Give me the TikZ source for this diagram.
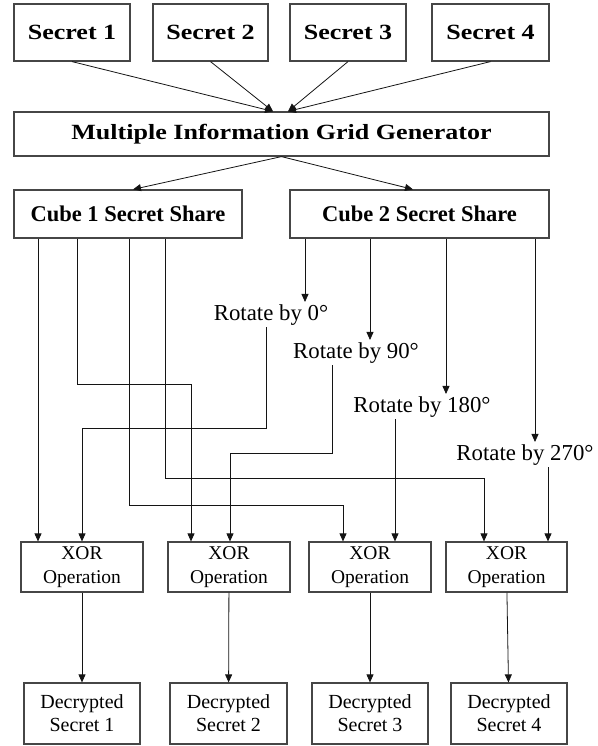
\documentclass[tikz,border=0pt]{standalone}
\usepackage{fontspec}
\setmainfont{Liberation Serif}
\newfontfamily\headfont{Liberation Serif}[FakeStretch=1.2]
\usetikzlibrary{arrows.meta,calc}
\definecolor{boxline}{RGB}{70,70,70}
\definecolor{wireline}{RGB}{20,20,20}

\begin{document}
\begin{tikzpicture}[x=1pt,y=-1pt,
  box/.style={draw=boxline,line width=1.2pt,inner sep=0pt,align=center},
  head/.style={box,font=\headfont\bfseries\fontsize{21.7}{26}\selectfont},
  cube/.style={box,font=\bfseries\fontsize{22.5}{27}\selectfont,
    minimum height=48pt},
  xorbox/.style={box,font=\fontsize{19.5}{23.5}\selectfont,
    minimum width=122pt,minimum height=50pt},
  outbox/.style={box,font=\fontsize{20}{23}\selectfont,
    minimum width=116pt,minimum height=61pt},
  rot/.style={inner sep=2pt,anchor=base,font=\fontsize{22.8}{27}\selectfont},
  wire/.style={draw=wireline,line width=0.8pt},
  arr/.style={wire,-{Triangle[length=8pt,width=7pt]}}]
  \useasboundingbox (0,0) rectangle (597,746);
  % inputs
  \node[head,minimum width=116pt,minimum height=57pt] (s1) at (72,32.5) {Secret 1};
  \node[head,minimum width=115pt,minimum height=57pt] (s2) at (210.5,32.5) {Secret 2};
  \node[head,minimum width=116pt,minimum height=57pt] (s3) at (348,32.5) {Secret 3};
  \node[head,minimum width=117pt,minimum height=57pt] (s4) at (490.5,32.5) {Secret 4};
  \node[head,minimum width=535pt,minimum height=44pt] (grid) at (281.5,134)
    {Multiple Information Grid Generator};
  \node[cube,minimum width=228pt] (c1) at (128,214) {Cube 1 Secret Share};
  \node[cube,minimum width=259pt] (c2) at (419.5,214) {Cube 2 Secret Share};
  % rotations
  \node[rot] (r0) at (271,320) {Rotate by 0°};
  \node[rot] (r90) at (356,358) {Rotate by 90°};
  \node[rot] (r180) at (422,412) {Rotate by 180°};
  \node[rot] (r270) at (525,460) {Rotate by 270°};
  % xor and outputs
  \node[xorbox] (x1) at (82,567) {XOR\\Operation};
  \node[xorbox] (x2) at (229,567) {XOR\\Operation};
  \node[xorbox] (x3) at (370,567) {XOR\\Operation};
  \node[xorbox,minimum width=121pt] (x4) at (506.5,567) {XOR\\Operation};
  \node[outbox] (d1) at (82,713.5) {Decrypted\\Secret 1};
  \node[outbox,minimum width=117pt] (d2) at (228.5,713.5) {Decrypted\\Secret 2};
  \node[outbox] (d3) at (370,713.5) {Decrypted\\Secret 3};
  \node[outbox] (d4) at (509,713.5) {Decrypted\\Secret 4};

  \coordinate (gl) at ($(grid.north)+(-8.5,0)$);
  \coordinate (gr) at ($(grid.north)+(6.5,0)$);
  \coordinate (ka) at (38,0);
  \coordinate (kb) at (77,0);
  \coordinate (kc) at (129,0);
  \coordinate (kd) at (165,0);
  \coordinate (ta) at (305,0);
  \coordinate (tb) at (370,0);
  \coordinate (tc) at (446,0);
  \coordinate (td) at (535,0);
  \coordinate (ua) at (266,0);
  \coordinate (ub) at (332,0);
  \coordinate (uc) at (395,0);
  \coordinate (ud) at (548,0);
  \coordinate (ja) at (82,428);
  \coordinate (jb) at (191,384);
  \coordinate (jc) at (343,505);
  \coordinate (jd) at (484,478);
  \coordinate (je) at (230,453);

  \draw[arr] (s1.south) -- (gl);
  \draw[arr] (s2.south) -- (gl);
  \draw[arr] (s3.south) -- (gr);
  \draw[arr] (s4.south) -- (gr);
  \draw[arr] (grid.south) -- ($(c1.north)+(5,0)$);
  \draw[arr] (grid.south) -- ($(c2.north)+(-6.5,0)$);

  \draw[arr] (c1.south -| ka) -- (x1.north -| ka);
  \draw[arr] (c1.south -| kb) |- (jb) -- (jb |- x2.north);
  \draw[arr] (c1.south -| kc) |- (jc) -- (jc |- x3.north);
  \draw[arr] (c1.south -| kd) |- (jd) -- (jd |- x4.north);

  \draw[arr] (c2.south -| ta) -- (r0.north -| ta);
  \draw[arr] (c2.south -| tb) -- (r90.north -| tb);
  \draw[arr] (c2.south -| tc) -- (r180.north -| tc);
  \draw[arr] (c2.south -| td) -- (r270.north -| td);

  \draw[arr] (r0.south -| ua) |- (ja) -- (ja |- x1.north);
  \draw[arr] (r90.south -| ub) |- (je) -- (je |- x2.north);
  \draw[arr] (r180.south -| uc) -- (x3.north -| uc);
  \draw[arr] (r270.south -| ud) -- (x4.north -| ud);

  \draw[arr] (x1) -- (d1);
  \draw[arr] (x2) -- (d2);
  \draw[arr] (x3) -- (d3);
  \draw[arr] (x4) -- (d4);
\end{tikzpicture}
\end{document}
